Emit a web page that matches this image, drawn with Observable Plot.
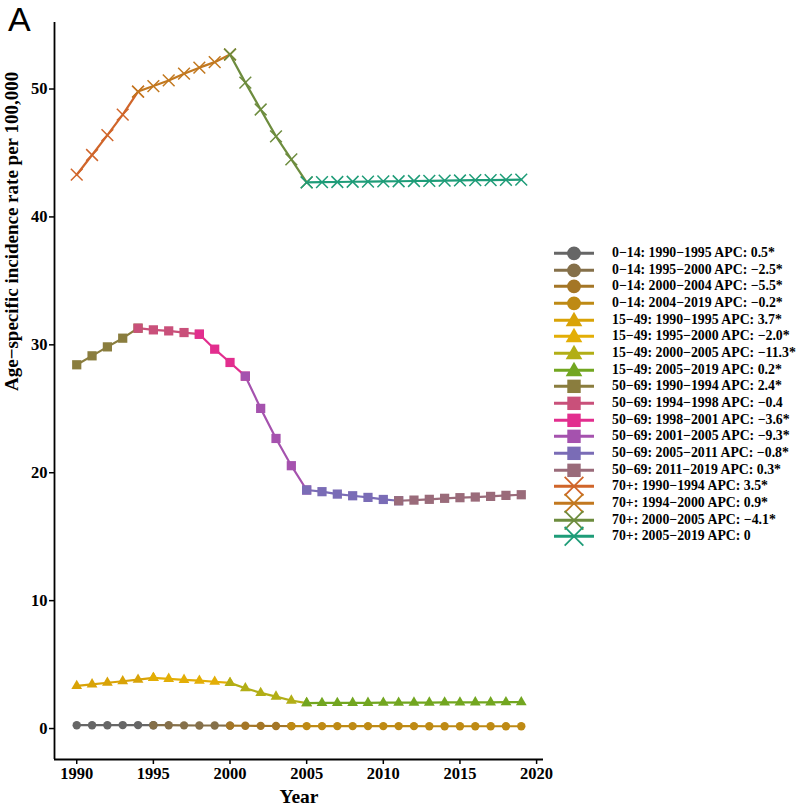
<!DOCTYPE html>
<html>
<head>
<meta charset="utf-8">
<script src="https://cdn.jsdelivr.net/npm/d3@7"></script>
<script src="https://cdn.jsdelivr.net/npm/@observablehq/plot@0.6"></script>
<style>
  html, body { margin: 0; padding: 0; background: #fff; }
  #wrap { position: relative; width: 798px; height: 810px; overflow: hidden; }
  #panel-tag { position: absolute; left: 8px; top: 2px; line-height: 34px; font-family: "Liberation Sans", Arial, sans-serif; font-size: 34px; color: #000; }
  #legend { position: absolute; left: 553px; top: 245px; font-family: "Liberation Serif", "Times New Roman", serif; font-weight: bold; font-size: 13.8px; color: #000; }
  .lrow { display: flex; align-items: center; height: 16.67px; white-space: nowrap; }
  .lrow svg { overflow: visible; flex: none; }
  .lrow span { margin-left: 17px; line-height: 16.67px; }
</style>
</head>
<body>
<div id="wrap">
  <div id="chart"></div>
  <div id="panel-tag">A</div>
  <div id="legend"></div>
</div>
<script>
// ---- data ----
const years = [1990, 1991, 1992, 1993, 1994, 1995, 1996, 1997, 1998, 1999,
               2000, 2001, 2002, 2003, 2004, 2005, 2006, 2007, 2008, 2009,
               2010, 2011, 2012, 2013, 2014, 2015, 2016, 2017, 2018, 2019];

const rate0_14 = [0.26, 0.26, 0.26, 0.27, 0.27, 0.26, 0.26, 0.25, 0.24, 0.24,
                  0.23, 0.22, 0.21, 0.20, 0.19, 0.19, 0.19, 0.19, 0.19, 0.19,
                  0.19, 0.19, 0.19, 0.18, 0.18, 0.18, 0.18, 0.18, 0.18, 0.18];
const rate15_49 = [3.33, 3.46, 3.58, 3.70, 3.82, 3.96, 3.89, 3.81, 3.74, 3.66,
                   3.57, 3.15, 2.79, 2.50, 2.19, 1.99, 2.00, 2.00, 2.01, 2.01,
                   2.02, 2.02, 2.03, 2.03, 2.04, 2.04, 2.05, 2.05, 2.06, 2.06];
const rate50_69 = [28.44, 29.14, 29.84, 30.52, 31.30, 31.17, 31.09, 30.96, 30.83, 29.66,
                   28.62, 27.55, 25.03, 22.68, 20.55, 18.65, 18.52, 18.33, 18.20, 18.07,
                   17.91, 17.81, 17.86, 17.92, 18.00, 18.05, 18.10, 18.15, 18.23, 18.28];
const rate70 = [43.30, 44.84, 46.40, 48.00, 49.80, 50.23, 50.67, 51.20, 51.67, 52.10,
                52.70, 50.50, 48.40, 46.30, 44.50, 42.70, 42.72, 42.73, 42.75, 42.76,
                42.78, 42.79, 42.81, 42.82, 42.84, 42.85, 42.87, 42.88, 42.90, 42.92];

const groups = ["0−14", "15−49", "50−69", "70+"];
const groupRates = [rate0_14, rate15_49, rate50_69, rate70];
const groupSymbols = ["circle", "triangle", "square", "times"];

const segGroup = ["0−14", "0−14", "0−14", "0−14",
                  "15−49", "15−49", "15−49", "15−49",
                  "50−69", "50−69", "50−69", "50−69", "50−69", "50−69",
                  "70+", "70+", "70+", "70+"];
const segStart = [1990, 1995, 2000, 2004, 1990, 1995, 2000, 2005, 1990, 1994, 1998, 2001, 2005, 2011, 1990, 1994, 2000, 2005];
const segEnd   = [1995, 2000, 2004, 2019, 1995, 2000, 2005, 2019, 1994, 1998, 2001, 2005, 2011, 2019, 1994, 2000, 2005, 2019];
const segAPC   = ["0.5*", "−2.5*", "−5.5*", "−0.2*", "3.7*", "−2.0*", "−11.3*", "0.2*",
                  "2.4*", "−0.4", "−3.6*", "−9.3*", "−0.8*", "0.3*", "3.5*", "0.9*", "−4.1*", "0"];
const segColors = ["#666666", "#85704a", "#a47626", "#be8a14", "#d9a307", "#e3ae06", "#b2ae16", "#72a620",
                   "#8a7d3e", "#c9507a", "#e22e8e", "#a552ae", "#7a6cb6", "#9a6b7a",
                   "#d0652a", "#c2781f", "#6d8c3e", "#1e9c78"];

const xTicks = [1990, 1995, 2000, 2005, 2010, 2015, 2020];
const yTicks = [0, 10, 20, 30, 40, 50];
const xTitle = "Year";
const yTitle = "Age−specific incidence rate per 100,000";

// ---- build table ----
const segLabels = segGroup.map((g, i) => `${g}: ${segStart[i]}−${segEnd[i]} APC: ${segAPC[i]}`);
const table = [];
segLabels.forEach((lab, i) => {
  const gi = groups.indexOf(segGroup[i]);
  years.forEach((yr, k) => {
    if (yr >= segStart[i] && yr <= segEnd[i]) {
      table.push({year: yr, value: groupRates[gi][k], seg: lab, group: segGroup[i]});
    }
  });
});

const xDomain = [1988.55, 2020.45];
const yDomain = [-2.42, 55.2];

const dotStyle = {
  "circle":   {r: 4.2},
  "triangle": {r: 4.0},
  "square":   {r: 5.2},
  "times":    {r: 5.4}
};

const dotMarks = groups.map((g, gi) => {
  const sym = groupSymbols[gi];
  const data = table.filter(d => d.group === g);
  if (sym === "times") {
    return Plot.dot(data, {x: "year", y: "value", symbol: () => sym, stroke: "seg", fill: "none", strokeWidth: 1.5, r: dotStyle[sym].r});
  }
  return Plot.dot(data, {x: "year", y: "value", symbol: () => sym, fill: "seg", stroke: "none", r: dotStyle[sym].r});
});

const chart = Plot.plot({
  width: 798,
  height: 810,
  marginLeft: 54,
  marginRight: 255,
  marginTop: 22,
  marginBottom: 51,
  style: {fontFamily: "'Liberation Serif', 'Times New Roman', serif", fontWeight: "bold", color: "#000", background: "#fff", overflow: "visible"},
  x: {domain: xDomain, label: null},
  y: {domain: yDomain, label: null},
  color: {domain: segLabels, range: segColors},
  symbol: {domain: groupSymbols, range: groupSymbols},
  marks: [
    Plot.line(table, {x: "year", y: "value", z: "seg", stroke: "seg", strokeWidth: 2.2}),
    ...dotMarks,
    Plot.ruleX([xDomain[0]], {stroke: "#000", strokeWidth: 1.8}),
    Plot.ruleY([yDomain[0]], {stroke: "#000", strokeWidth: 1.8}),
    Plot.axisX({ticks: xTicks, tickFormat: d => String(d), tickSize: 5, tickPadding: 3, fontSize: 16.5, fontWeight: "bold", strokeWidth: 1.5, label: null}),
    Plot.axisY({ticks: yTicks, tickFormat: d => String(d), tickSize: 5, tickPadding: 2, fontSize: 16.5, fontWeight: "bold", strokeWidth: 1.5, label: null}),
    Plot.text([xTitle], {text: d => d, frameAnchor: "bottom", dy: 43, fontSize: 19.5, fontWeight: "bold"}),
    Plot.text([yTitle], {text: d => d, frameAnchor: "left", dx: -43, rotate: -90, fontSize: 19, fontWeight: "bold"})
  ]
});
document.getElementById("chart").appendChild(chart);

// ---- legend ----
const legend = document.getElementById("legend");
const ns = "http://www.w3.org/2000/svg";
segLabels.forEach((lab, i) => {
  const row = document.createElement("div");
  row.className = "lrow";
  const svg = document.createElementNS(ns, "svg");
  svg.setAttribute("width", "42");
  svg.setAttribute("height", "16.67");
  const cy = 8.33, cx = 21;
  const line = document.createElementNS(ns, "line");
  line.setAttribute("x1", "1"); line.setAttribute("x2", "41");
  line.setAttribute("y1", cy); line.setAttribute("y2", cy);
  line.setAttribute("stroke", segColors[i]); line.setAttribute("stroke-width", "3");
  svg.appendChild(line);
  const sym = groupSymbols[groups.indexOf(segGroup[i])];
  const size = {circle: 150, triangle: 120, square: 180, times: 230}[sym];
  const path = document.createElementNS(ns, "path");
  const symType = {circle: d3.symbolCircle, triangle: d3.symbolTriangle, square: d3.symbolSquare, times: d3.symbolTimes}[sym];
  path.setAttribute("d", d3.symbol(symType, size)());
  path.setAttribute("transform", `translate(${cx},${cy + (sym === "triangle" ? 1 : 0)})`);
  if (sym === "times") {
    path.setAttribute("fill", "none");
    path.setAttribute("stroke", segColors[i]);
    path.setAttribute("stroke-width", "1.8");
  } else {
    path.setAttribute("fill", segColors[i]);
  }
  svg.appendChild(path);
  row.appendChild(svg);
  const span = document.createElement("span");
  span.textContent = lab;
  row.appendChild(span);
  legend.appendChild(row);
});
</script>
</body>
</html>
